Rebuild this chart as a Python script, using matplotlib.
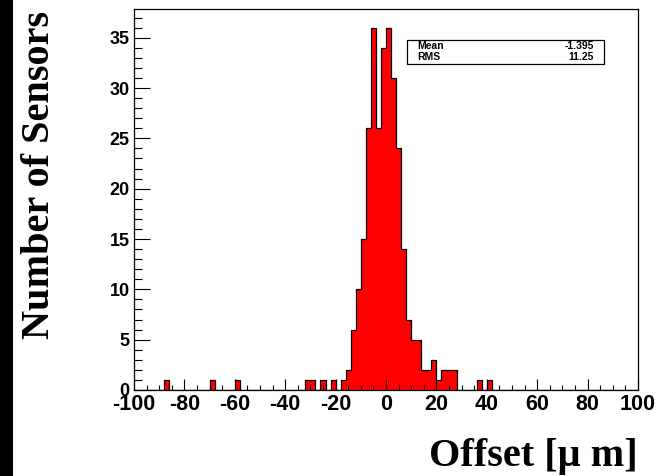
import numpy as np
import matplotlib
matplotlib.use("Agg")
import matplotlib.pyplot as plt
from matplotlib.ticker import MultipleLocator
from matplotlib.patches import Rectangle

plt.rcParams["axes.unicode_minus"] = False

# Histogram data: left edges of non-empty bins (bin width 2 um) and counts
bin_lefts = [-88, -70, -60, -32, -30, -26, -22, -18, -16, -14, -12, -10, -8, -6,
             -4, -2, 0, 2, 4, 6, 8, 10, 12, 14, 16, 18, 20, 22, 24, 26, 36, 40]
bin_counts = [1, 1, 1, 1, 1, 1, 1, 1, 2, 6, 10, 15, 26, 36,
              26, 34, 36, 31, 24, 14, 7, 5, 5, 2, 2, 3, 1, 2, 2, 2, 1, 1]
x_range = (-100, 100)
bin_width = 2
stats_labels = ["Mean", "RMS"]
stats_values = ["-1.395", "11.25"]

edges = np.arange(x_range[0], x_range[1] + bin_width, bin_width)
counts = np.zeros(len(edges) - 1)
for left, c in zip(bin_lefts, bin_counts):
    counts[int((left - x_range[0]) // bin_width)] = c

W, H = 664, 476
fig = plt.figure(figsize=(W / 100, H / 100), dpi=100)
fig.patch.set_facecolor("white")

# black strip on the left
fig.add_artist(Rectangle((0, 0), 13 / W, 1, transform=fig.transFigure,
                         facecolor="black", edgecolor="none"))

L, R, T, B = 134, 638, 9.5, 390
ax = fig.add_axes([L / W, 1 - B / H, (R - L) / W, (B - T) / H])

ax.stairs(counts, edges, fill=True, color="#ff0000", linewidth=0)
ax.stairs(counts, edges, fill=False, color="black", linewidth=0.9)

ax.set_xlim(*x_range)
ax.set_ylim(0, 1.05 * max(bin_counts))

ax.xaxis.set_major_locator(MultipleLocator(20))
ax.xaxis.set_minor_locator(MultipleLocator(5))
ax.yaxis.set_major_locator(MultipleLocator(5))
ax.yaxis.set_minor_locator(MultipleLocator(1))

ax.tick_params(axis="both", which="both", direction="in", top=False, right=False,
               width=0.8, color="black")
ax.tick_params(axis="y", which="major", length=11.5, pad=3)
ax.tick_params(axis="y", which="minor", length=5.5)
ax.tick_params(axis="x", which="major", length=8, pad=3)
ax.tick_params(axis="x", which="minor", length=3.8)

for lab in ax.get_xticklabels():
    lab.set_fontfamily("Liberation Sans")
    lab.set_fontweight("bold")
    lab.set_fontsize(15.5)
for lab in ax.get_yticklabels():
    lab.set_fontfamily("Liberation Sans")
    lab.set_fontweight("bold")
    lab.set_fontsize(13)

for sp in ax.spines.values():
    sp.set_linewidth(0.9)
    sp.set_color("black")

# axis titles
fig.text(40 / W, 1 - 175 / H, "Number of Sensors", rotation=90, ha="center", va="center",
         fontfamily="Liberation Serif", fontweight="bold", fontsize=29)
fig.text(R / W, 1 - 466 / H, "Offset [\u03bc m]", ha="right", va="baseline",
         fontfamily="Liberation Serif", fontweight="bold", fontsize=29)

# stats box
bx0, bx1, by0, by1 = 406.7, 604, 40, 64
fig.add_artist(Rectangle((bx0 / W, 1 - by1 / H), (bx1 - bx0) / W, (by1 - by0) / H,
                         transform=fig.transFigure, facecolor="white",
                         edgecolor="black", linewidth=0.9))
for i, (lab, val) in enumerate(zip(stats_labels, stats_values)):
    yc = 1 - (46 + 11 * i) / H
    fig.text(417 / W, yc, lab, ha="left", va="center", fontfamily="Liberation Sans",
             fontweight="bold", fontsize=7.5)
    fig.text(594 / W, yc, val, ha="right", va="center", fontfamily="Liberation Sans",
             fontweight="bold", fontsize=7.5)

fig.savefig("out.png", dpi=100)
